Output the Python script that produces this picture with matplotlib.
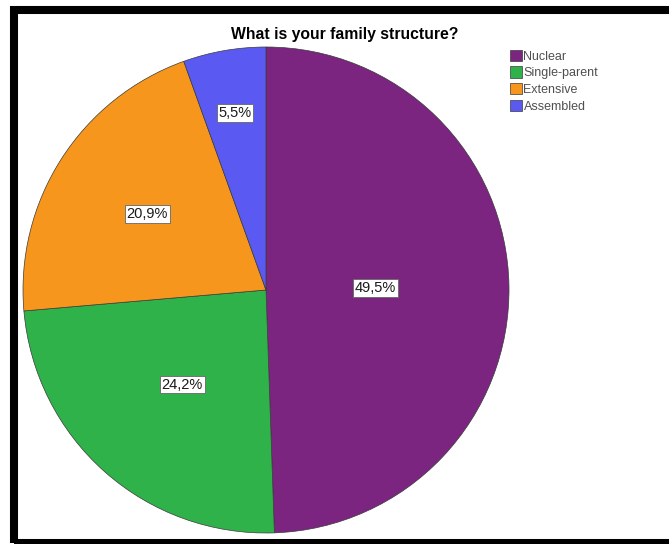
import numpy as np
import matplotlib.pyplot as plt
from matplotlib.patches import Rectangle

categories = ["Nuclear", "Single-parent", "Extensive", "Assembled"]
shares = [49.5, 24.2, 20.9, 5.5]
colors = ["#7b2480", "#2fb24a", "#f7961c", "#5a5af2"]

# radial placement of each percentage label (fraction of radius)
label_dist = [0.45, 0.52, 0.58, 0.74]

plt.rcParams["font.family"] = ["Liberation Sans", "DejaVu Sans"]

fig = plt.figure(figsize=(6.69, 5.44), dpi=100)
W, H = 669, 544

# thick black frame around the chart area
fig.patches.append(Rectangle((14 / W, 1 / H), 659 / W, 533 / H,
                             transform=fig.transFigure, fill=False,
                             edgecolor="black", linewidth=5.8))

cx, cy, r = 266, 290, 243
ax = fig.add_axes([(cx - r) / W, (H - cy - r) / H, 2 * r / W, 2 * r / H])
wedges, _ = ax.pie(shares, colors=colors, startangle=90, counterclock=False,
                   radius=1.0,
                   wedgeprops=dict(edgecolor="#3a3a3a", linewidth=0.5))
ax.set_xlim(-1.0, 1.0)
ax.set_ylim(-1.0, 1.0)
ax.set_aspect("equal")
ax.axis("off")

for w, val, d in zip(wedges, shares, label_dist):
    ang = np.deg2rad((w.theta1 + w.theta2) / 2)
    ax.text(d * np.cos(ang), d * np.sin(ang), f"{val:.1f}%".replace(".", ","),
            ha="center", va="center", fontsize=10.5, color="#1a1a1a",
            bbox=dict(boxstyle="square,pad=0.12", facecolor="white",
                      edgecolor="#666666", linewidth=0.6))

fig.text(345 / W, 1 - 35 / H, "What is your family structure?",
         ha="center", va="center", fontsize=11.3, fontweight="bold")

leg = fig.legend(wedges, categories, loc="upper left",
                 bbox_to_anchor=(501 / W, 1 - 41 / H), frameon=False,
                 fontsize=9, handlelength=1.0, handleheight=1.0,
                 handletextpad=0.1, labelspacing=0.3, borderpad=0.2)
for t in leg.get_texts():
    t.set_color("#505050")

fig.savefig("out.png", dpi=100, facecolor="white")
